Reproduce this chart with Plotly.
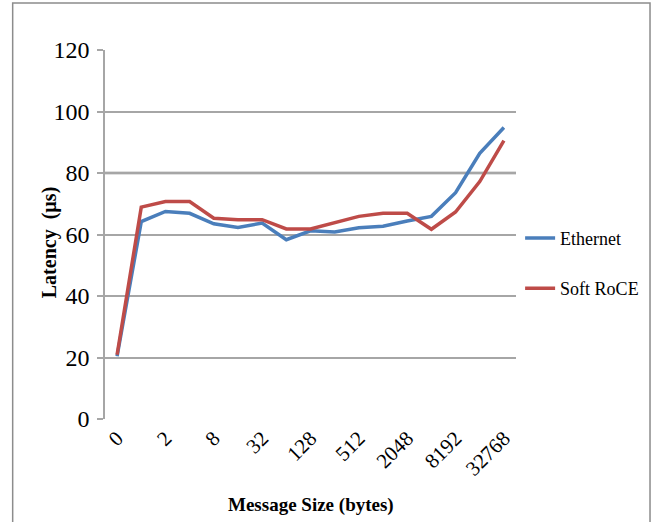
import plotly.graph_objects as go

# Message sizes (bytes) and measured latency (µs)
sizes = ["0", "1", "2", "4", "8", "16", "32", "64", "128", "256",
         "512", "1024", "2048", "4096", "8192", "16384", "32768"]
ethernet = [20.4, 64.2, 67.5, 66.9, 63.5, 62.3, 63.7, 58.3, 61.2, 60.8,
            62.2, 62.7, 64.4, 65.9, 73.6, 86.4, 94.8]
soft_roce = [20.9, 68.9, 70.7, 70.7, 65.3, 64.8, 64.8, 61.8, 61.8, 63.9,
             65.9, 66.9, 66.9, 61.7, 67.3, 77.2, 90.5]
shown_ticks = sizes[::2]
y_ticks = [0, 20, 40, 60, 80, 100, 120]

serif = "Liberation Serif, Times New Roman, serif"

fig = go.Figure()
fig.add_trace(go.Scatter(x=sizes, y=ethernet, mode="lines", name="Ethernet",
                         legendgroup="eth",
                         line=dict(color="#4A7EBB", width=3.5)))
fig.add_trace(go.Scatter(x=sizes, y=soft_roce, mode="lines", name="Soft RoCE",
                         legendgroup="roce",
                         line=dict(color="#BE4B48", width=3.5)))

fig.update_layout(
    width=656, height=522,
    margin=dict(l=105, r=137, t=50, b=103),
    paper_bgcolor="white", plot_bgcolor="white",
    font=dict(family=serif, color="black"),
    showlegend=True,
    legend=dict(x=1.01, y=0.54, xanchor="left", yanchor="top",
                font=dict(size=18, family=serif), tracegroupgap=24,
                bgcolor="rgba(0,0,0,0)"),
    xaxis=dict(type="category", range=[-0.5, len(sizes) - 0.5],
               tickmode="array", tickvals=shown_ticks, ticktext=shown_ticks,
               tickangle=-45, tickfont=dict(size=21, family=serif),
               showgrid=False, zeroline=False, showline=False,
               ticks="", ticklabelstandoff=2),
    yaxis=dict(range=[0, 120], tickvals=y_ticks, tickfont=dict(size=24, family=serif),
               showgrid=True, gridcolor="#A6A6A6", gridwidth=1.5,
               zeroline=False, showline=True, linecolor="#A6A6A6", linewidth=1.5,
               ticks="outside", ticklen=6, tickcolor="#A6A6A6", tickwidth=1.5,
               ticklabelstandoff=3),
    annotations=[
        dict(text="<b>Latency  (µs)</b>", xref="paper", yref="paper",
             x=-0.133, y=0.48, xanchor="center", yanchor="middle",
             textangle=-90, showarrow=False,
             font=dict(size=20, family=serif)),
        dict(text="<b>Message Size (bytes)</b>", xref="paper", yref="paper",
             x=0.5, y=-0.233, xanchor="center", yanchor="middle",
             showarrow=False, font=dict(size=19, family=serif)),
    ],
    shapes=[
        # darker gridline at 80 µs
        dict(type="line", xref="paper", yref="y", x0=0, x1=1, y0=80, y1=80,
             line=dict(color="#7F7F7F", width=2.5), layer="below"),
        # outer frame of the chart
        dict(type="rect", xref="paper", yref="paper",
             x0=-93 / 414, x1=549 / 414, y0=-120 / 369, y1=416 / 369,
             line=dict(color="#8C8C8C", width=1.5)),
    ],
)

fig.write_html("out.html")
